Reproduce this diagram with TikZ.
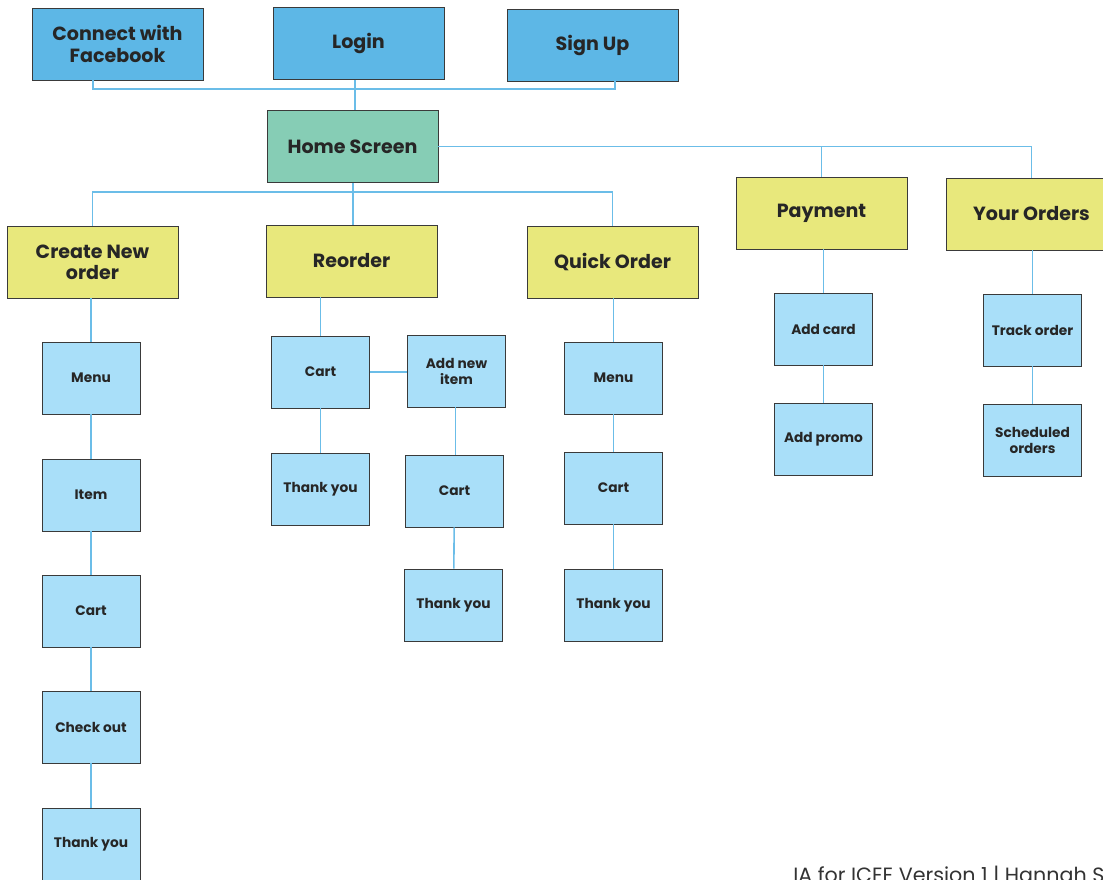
\documentclass[tikz,border=0pt]{standalone}
\usepackage{fontspec}
\setmainfont{Poppins}
\definecolor{topblue}{HTML}{5DB7E6}
\definecolor{homegreen}{HTML}{86CDB5}
\definecolor{ylw}{HTML}{E8E87C}
\definecolor{ltblue}{HTML}{A9DFF9}
\definecolor{linec}{HTML}{6BBDE8}
\definecolor{edge}{HTML}{3A3A3A}
\begin{document}
\begin{tikzpicture}[x=0.75pt,y=-0.75pt,
  box/.style={draw=edge,line width=0.6pt,align=center,inner sep=2pt,text=black!85},
  big/.style={box,minimum width=128.25pt,minimum height=54pt,font=\fontsize{14.3}{16}\selectfont\bfseries},
  small/.style={box,fill=ltblue,minimum width=73.5pt,minimum height=54pt,font=\fontsize{10.3}{12}\selectfont\bfseries},
  conn/.style={draw=linec,line width=1.2pt}]
\useasboundingbox (0,0) rectangle (1103,879);
% top row
\node[big,fill=topblue] (fb) at (117.5,44) {Connect with\\Facebook};
\node[big,fill=topblue] (login) at (358.5,43.5) {Login};
\node[big,fill=topblue] (su) at (592.5,45) {Sign Up};
\node[big,fill=homegreen] (home) at (352.5,146.5) {Home Screen};
% second level
\node[big,fill=ylw] (cno) at (92.5,262) {Create New\\order};
\node[big,fill=ylw] (ro) at (351.5,261) {Reorder};
\node[big,fill=ylw] (qo) at (612.5,262) {Quick Order};
\node[big,fill=ylw] (pay) at (821.5,213) {Payment};
\node[big,fill=ylw] (yo) at (1031.5,214) {Your Orders};
% create new order column
\node[small] (c1) at (91,378) {Menu};
\node[small] (c2) at (91,495) {Item};
\node[small] (c3) at (91,611) {Cart};
\node[small] (c4) at (91,727) {Check out};
\node[small] (c5) at (91,844) {Thank you};
% reorder
\node[small] (r1) at (320.5,372) {Cart};
\node[small] (r2) at (320.5,489) {Thank you};
\node[small] (r3) at (456.5,371) {Add new\\item};
\node[small] (r4) at (454.5,491) {Cart};
\node[small] (r5) at (453.5,605) {Thank you};
% quick order
\node[small] (q1) at (613.5,378) {Menu};
\node[small] (q2) at (613.5,488) {Cart};
\node[small] (q3) at (613.5,605) {Thank you};
% payment
\node[small] (p1) at (823.5,329) {Add card};
\node[small] (p2) at (823.5,439) {Add promo};
% your orders
\node[small] (y1) at (1032.5,330) {Track order};
\node[small] (y2) at (1032.5,440) {Scheduled\\orders};
% footer
\node[anchor=north west,inner sep=0pt,text=black!80,font=\fontsize{15.5}{17}\selectfont] (foot) at (793,866) {IA for ICEE Version 1 | Hannah S};
% connectors
\coordinate (tb) at (355,89);
\draw[conn] (fb.south -| 93,0) |- (tb) -| (su.south -| 615,0);
\draw[conn] (login.south -| tb) -- (home.north -| tb);
\coordinate (hb) at (353,192);
\draw[conn] (home.south -| hb) -- (hb);
\draw[conn] (cno.north) |- (hb) -| (qo.north);
\draw[conn] (hb) -- (ro.north -| hb);
\draw[conn] (home.east) -| (yo.north);
\draw[conn] (pay.north) -- (pay.north |- home.east);
\draw[conn] (cno.south -| c1) -- (c1.north);
\draw[conn] (c1) -- (c2) -- (c3) -- (c4) -- (c5);
\draw[conn] (ro.south -| r1) -- (r1.north);
\draw[conn] (r1) -- (r2);
\draw[conn] (r1.east) -- (r3.west |- r1.east);
\draw[conn] (r3.south -| 455.5,0) -- (r4.north -| 455.5,0);
\draw[conn] (r4) -- (r5);
\draw[conn] (qo.south -| q1) -- (q1.north);
\draw[conn] (q1) -- (q2) -- (q3);
\draw[conn] (pay.south -| p1) -- (p1.north);
\draw[conn] (p1) -- (p2);
\draw[conn] (yo.south -| y1) -- (y1.north);
\draw[conn] (y1) -- (y2);
\end{tikzpicture}
\end{document}
